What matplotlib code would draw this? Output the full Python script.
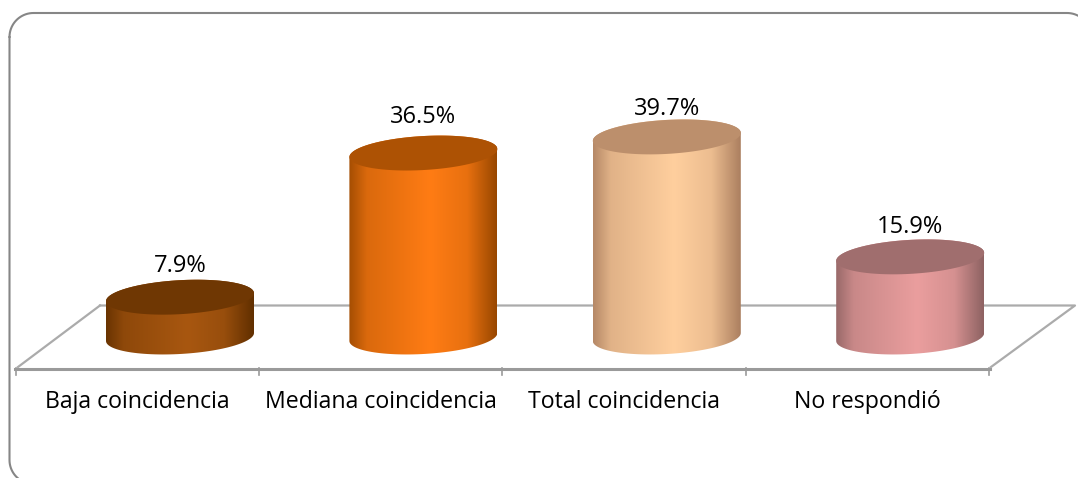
import numpy as np
import matplotlib
matplotlib.use('Agg')
import matplotlib.pyplot as plt
from matplotlib.patches import PathPatch
from matplotlib.path import Path
from matplotlib.colors import to_rgb

categories = ['Baja coincidencia', 'Mediana coincidencia', 'Total coincidencia', 'No respondió']
values = [7.9, 36.5, 39.7, 15.9]
labels = ['7.9%', '36.5%', '39.7%', '15.9%']
body_colors = ['#A85710', '#FF7C14', '#FFCF9E', '#EA9E9E']
top_colors = ['#6F3703', '#AD5204', '#BC8F6C', '#A06E6E']
label_offsets = [31, 36, 28, 30]

# todo em pixels da imagem
W, H = 1078, 478
base_y = 337
px_per_pct = 5.04
x0 = 180
step = 243.4
half_w = 74
ell_b = 17
ell_k = 4

plt.rcParams['font.family'] = ['Open Sans', 'DejaVu Sans']
fig = plt.figure(figsize=(W / 100, H / 100), dpi=100)
ax = fig.add_axes([0, 0, 1, 1])
ax.set_xlim(0, W)
ax.set_ylim(H, 0)
ax.axis('off')


def rounded_frame(left, top, right, bottom, r):
    xs, ys = [], []
    corners = [(left + r, top + r, 180), (right - r, top + r, 270),
               (right - r, bottom - r, 0), (left + r, bottom - r, 90)]
    for cx, cy, a in corners:
        t = np.radians(np.linspace(a, a + 90, 20))
        xs.extend(cx + r * np.cos(t))
        ys.extend(cy + r * np.sin(t))
    return xs + xs[:1], ys + ys[:1]


# moldura (sai da imagem a direita e embaixo)
fx, fy = rounded_frame(9.5, 13, 1091, 484, 24)
ax.plot(fx, fy, color='#868686', lw=1.5, zorder=1, solid_capstyle='round')

# chao
grey = '#ABABAB'
ax.plot([100, 1075, 991], [305.5, 305.5, 367], color=grey, lw=1.6, zorder=1)
ax.plot([100, 18], [305.5, 367], color=grey, lw=1.6, zorder=1)
ax.plot([15, 990], [368.5, 368.5], color='#9A9A9A', lw=2.2, zorder=1)
for i in range(5):
    xt = 15.5 + i * step
    ax.plot([xt, xt], [368, 375], color='#9A9A9A', lw=1.2, zorder=1)


def ellipse(cx, cy, t):
    return cx + half_w * np.cos(t), cy - ell_b * np.sin(t) - ell_k * np.cos(t)


# mistura entre a cor da tampa (0) e a cor do corpo (1)
stops = [0, 0.12, 0.55, 0.8, 1]
mix = [-0.1, 0.55, 1, 0.72, -0.25]
for i, v in enumerate(values):
    cx = x0 + i * step
    top_y = base_y - v * px_per_pct
    # corpo: arco de baixo + arco de cima
    xb, yb = ellipse(cx, base_y, np.linspace(np.pi, 2 * np.pi, 60))
    xt, yt = ellipse(cx, top_y, np.linspace(0, np.pi, 60))
    verts = np.column_stack([np.r_[xb, xt], np.r_[yb, yt]])
    body = Path(np.vstack([verts, verts[0]]), closed=True)
    m = np.interp(np.linspace(0, 1, 300), stops, mix)[None, :, None]
    grad = m * np.array(to_rgb(body_colors[i])) + (1 - m) * np.array(to_rgb(top_colors[i]))
    im = ax.imshow(np.clip(grad, 0, 1), extent=[cx - half_w, cx + half_w, base_y + 30, top_y - 30],
                   aspect='auto', zorder=3, interpolation='bilinear')
    im.set_clip_path(PathPatch(body, transform=ax.transData))
    # tampa
    xe, ye = ellipse(cx, top_y, np.linspace(0, 2 * np.pi, 120))
    ax.fill(xe, ye, color=top_colors[i], lw=0, zorder=4)
    ax.text(cx, top_y - label_offsets[i], labels[i], ha='center', va='center',
            fontsize=17, color='black', zorder=5)
    ax.text(15.5 + (i + 0.5) * step, 402.5, categories[i], ha='center', va='center',
            fontsize=16.7, color='black', zorder=5)

ax.set_xlim(0, W)
ax.set_ylim(H, 0)
fig.savefig('out.png', dpi=100)
